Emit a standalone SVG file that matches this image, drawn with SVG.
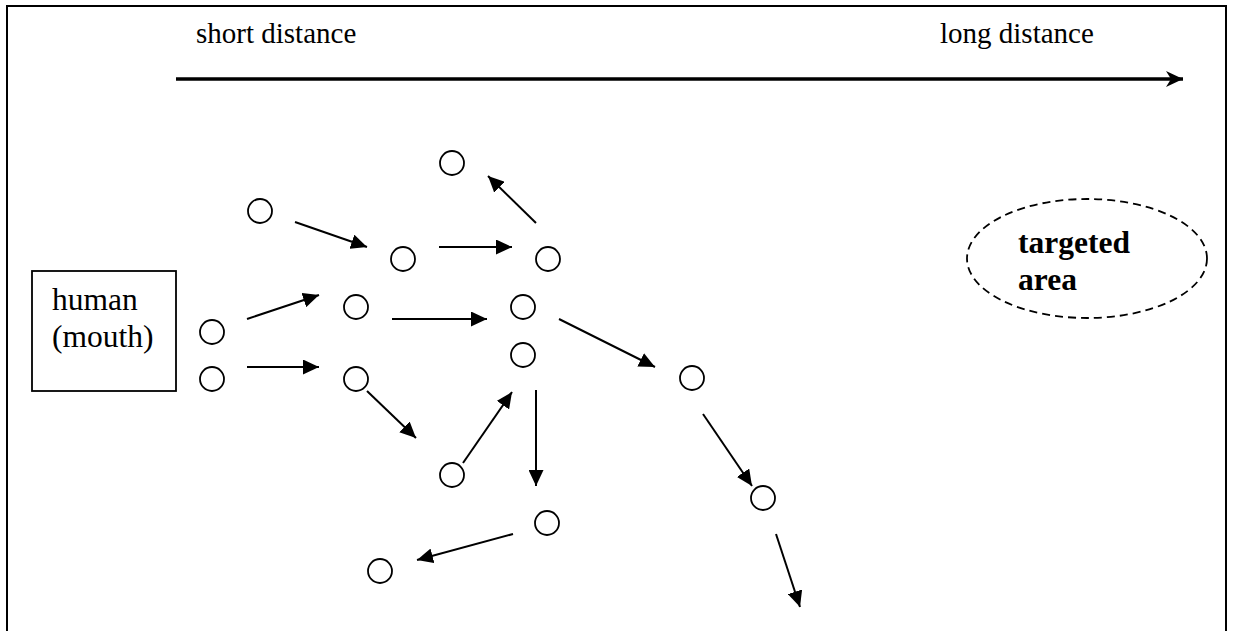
<svg xmlns="http://www.w3.org/2000/svg" width="1233" height="631" viewBox="0 0 1233 631">
  <defs>
    <marker id="head" viewBox="0 0 16 15" refX="16" refY="7.5" markerWidth="16" markerHeight="15" markerUnits="userSpaceOnUse" orient="auto">
      <path d="M0,0 L16,7.5 L0,15 Z" fill="#000"/>
    </marker>
    <marker id="axisHead" viewBox="0 0 17 16" refX="17" refY="8" markerWidth="17" markerHeight="16" markerUnits="userSpaceOnUse" orient="auto">
      <path d="M0,0 L17,8 L0,16 L5,8 Z" fill="#000"/>
    </marker>
    <style>
      .lbl { font-family: "Liberation Serif", "Times New Roman", serif; fill: #000; }
      .dot { fill: #fff; stroke: #000; stroke-width: 1.8; }
      .link { stroke: #000; stroke-width: 2; fill: none; marker-end: url(#head); }
    </style>
  </defs>
  <rect width="1233" height="631" fill="#fff"/>
  <!-- frame (open at the bottom) -->
  <path d="M7,631 L7,6 L1226,6 L1226,631" fill="none" stroke="#000" stroke-width="2"/>

  <!-- distance axis -->
  <g id="axis">
    <text class="lbl" x="196" y="43" font-size="29">short distance</text>
    <text class="lbl" x="940" y="43" font-size="29">long distance</text>
    <line x1="176" y1="79" x2="1183" y2="79" stroke="#000" stroke-width="3.5" marker-end="url(#axisHead)"/>
  </g>

  <g id="human">
    <rect x="32" y="271" width="144" height="120" fill="#fff" stroke="#000" stroke-width="1.8"/>
    <text class="lbl" x="52" y="310" font-size="31.5">human</text>
    <text class="lbl" x="52" y="347" font-size="31.5">(mouth)</text>
  </g>

  <g id="target">
    <ellipse cx="1087" cy="258.5" rx="120" ry="59.5" fill="none" stroke="#000" stroke-width="1.8" stroke-dasharray="8,5"/>
    <text class="lbl" x="1018" y="253" font-size="31.5" font-weight="bold">targeted</text>
    <text class="lbl" x="1018" y="290" font-size="31.5" font-weight="bold">area</text>
  </g>

  <!-- droplets -->
  <g id="droplets">
    <circle id="d1" class="dot" cx="260" cy="211" r="12"/>
    <circle id="d2" class="dot" cx="403" cy="259" r="12"/>
    <circle id="d3" class="dot" cx="356" cy="307" r="12"/>
    <circle id="d4" class="dot" cx="212" cy="332" r="12"/>
    <circle id="d5" class="dot" cx="212" cy="379" r="12"/>
    <circle id="d6" class="dot" cx="356" cy="379" r="12"/>
    <circle id="d7" class="dot" cx="452" cy="163" r="12"/>
    <circle id="d8" class="dot" cx="548" cy="259" r="12"/>
    <circle id="d9" class="dot" cx="523" cy="307" r="12"/>
    <circle id="d10" class="dot" cx="523" cy="355" r="12"/>
    <circle id="d11" class="dot" cx="692" cy="378" r="12"/>
    <circle id="d12" class="dot" cx="452" cy="475" r="12"/>
    <circle id="d13" class="dot" cx="547" cy="523" r="12"/>
    <circle id="d14" class="dot" cx="380" cy="571" r="12"/>
    <circle id="d15" class="dot" cx="763" cy="498" r="12"/>
  </g>

  <!-- droplet paths -->
  <g id="connectors">
    <line class="link" x1="295" y1="222" x2="367" y2="247"/>
    <line class="link" x1="247" y1="319" x2="319" y2="295"/>
    <line class="link" x1="247" y1="367" x2="319" y2="367"/>
    <line class="link" x1="392" y1="319" x2="487" y2="319"/>
    <line class="link" x1="439" y1="247" x2="512" y2="247"/>
    <line class="link" x1="536" y1="223" x2="488" y2="176"/>
    <line class="link" x1="559" y1="319" x2="655" y2="367"/>
    <line class="link" x1="367" y1="391" x2="416" y2="438"/>
    <line class="link" x1="463" y1="463" x2="512" y2="392"/>
    <line class="link" x1="536" y1="390" x2="536" y2="486"/>
    <line class="link" x1="513" y1="534" x2="417" y2="560"/>
    <line class="link" x1="703" y1="414" x2="752" y2="486"/>
    <line class="link" x1="776" y1="534" x2="800" y2="607"/>
  </g>
</svg>
